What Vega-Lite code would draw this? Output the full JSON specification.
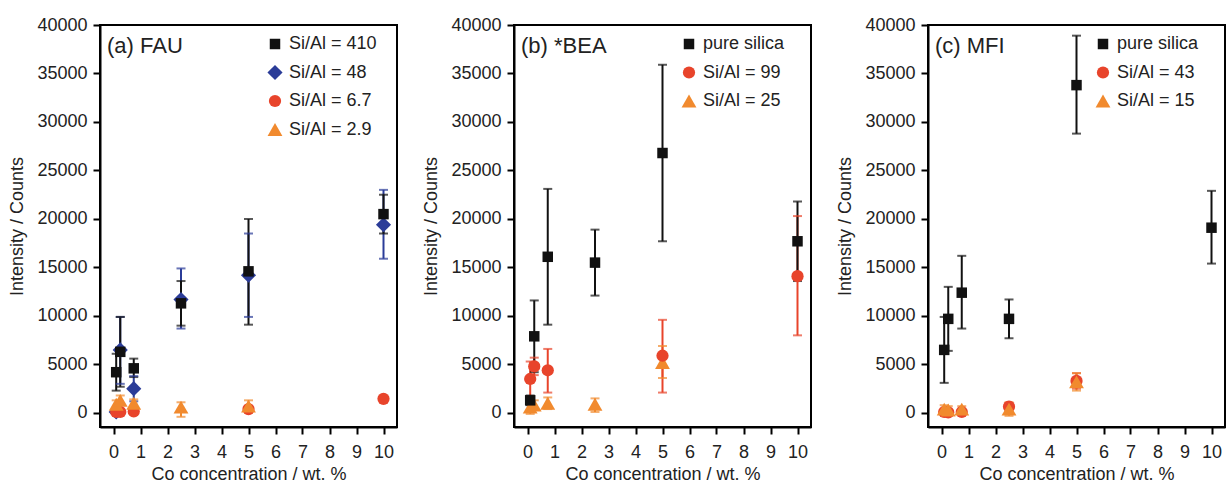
{
  "$schema": "https://vega.github.io/schema/vega-lite/v6.json",
  "padding": {"left": 7, "top": 15, "right": 0, "bottom": 0},
  "spacing": 23,
  "background": "white",
  "datasets": {
    "fau": [
      {"s": "Si/Al = 48", "x": 0.1, "y": 100, "lo": -100, "hi": 300},
      {"s": "Si/Al = 48", "x": 0.25, "y": 6500, "lo": 3000, "hi": 9900},
      {"s": "Si/Al = 48", "x": 0.75, "y": 2500, "lo": 1200, "hi": 3800},
      {"s": "Si/Al = 48", "x": 2.5, "y": 11700, "lo": 8700, "hi": 14900},
      {"s": "Si/Al = 48", "x": 5, "y": 14200, "lo": 9900, "hi": 18500},
      {"s": "Si/Al = 48", "x": 10, "y": 19400, "lo": 15900, "hi": 23000},
      {"s": "Si/Al = 6.7", "x": 0.1, "y": 100, "lo": 100, "hi": 100},
      {"s": "Si/Al = 6.7", "x": 0.25, "y": 100, "lo": 100, "hi": 100},
      {"s": "Si/Al = 6.7", "x": 0.75, "y": 150, "lo": 150, "hi": 150},
      {"s": "Si/Al = 6.7", "x": 5, "y": 400, "lo": 400, "hi": 400},
      {"s": "Si/Al = 6.7", "x": 10, "y": 1450, "lo": 1300, "hi": 1600},
      {"s": "Si/Al = 2.9", "x": 0.1, "y": 900, "lo": 500, "hi": 1300},
      {"s": "Si/Al = 2.9", "x": 0.25, "y": 1300, "lo": 800, "hi": 1800},
      {"s": "Si/Al = 2.9", "x": 0.75, "y": 1000, "lo": 600, "hi": 1400},
      {"s": "Si/Al = 2.9", "x": 2.5, "y": 600, "lo": -400, "hi": 1100},
      {"s": "Si/Al = 2.9", "x": 5, "y": 700, "lo": 0, "hi": 1300},
      {"s": "Si/Al = 410", "x": 0.1, "y": 4200, "lo": 2300, "hi": 6100},
      {"s": "Si/Al = 410", "x": 0.25, "y": 6300, "lo": 2700, "hi": 9900},
      {"s": "Si/Al = 410", "x": 0.75, "y": 4600, "lo": 3700, "hi": 5600},
      {"s": "Si/Al = 410", "x": 2.5, "y": 11300, "lo": 9000, "hi": 13600},
      {"s": "Si/Al = 410", "x": 5, "y": 14600, "lo": 9100, "hi": 20000},
      {"s": "Si/Al = 410", "x": 10, "y": 20500, "lo": 18500, "hi": 22500}
    ],
    "bea": [
      {"s": "Si/Al = 25", "x": 0.1, "y": 600, "lo": -100, "hi": 1300},
      {"s": "Si/Al = 25", "x": 0.25, "y": 800, "lo": 300, "hi": 1300},
      {"s": "Si/Al = 25", "x": 0.75, "y": 1000, "lo": 400, "hi": 1600},
      {"s": "Si/Al = 25", "x": 2.5, "y": 900, "lo": 100, "hi": 1500},
      {"s": "Si/Al = 25", "x": 5, "y": 5200, "lo": 3600, "hi": 6900},
      {"s": "Si/Al = 99", "x": 0.1, "y": 3500, "lo": 1700, "hi": 5300},
      {"s": "Si/Al = 99", "x": 0.25, "y": 4800, "lo": 3900, "hi": 5700},
      {"s": "Si/Al = 99", "x": 0.75, "y": 4400, "lo": 2100, "hi": 6600},
      {"s": "Si/Al = 99", "x": 5, "y": 5900, "lo": 2100, "hi": 9600},
      {"s": "Si/Al = 99", "x": 10, "y": 14100, "lo": 8000, "hi": 20300},
      {"s": "pure silica", "x": 0.1, "y": 1300, "lo": 800, "hi": 1800},
      {"s": "pure silica", "x": 0.25, "y": 7900, "lo": 4200, "hi": 11600},
      {"s": "pure silica", "x": 0.75, "y": 16100, "lo": 9100, "hi": 23100},
      {"s": "pure silica", "x": 2.5, "y": 15500, "lo": 12100, "hi": 18900},
      {"s": "pure silica", "x": 5, "y": 26800, "lo": 17700, "hi": 35900},
      {"s": "pure silica", "x": 10, "y": 17700, "lo": 13600, "hi": 21800}
    ],
    "mfi": [
      {"s": "Si/Al = 43", "x": 0.1, "y": 100, "lo": 100, "hi": 100},
      {"s": "Si/Al = 43", "x": 0.25, "y": 50, "lo": 50, "hi": 50},
      {"s": "Si/Al = 43", "x": 0.75, "y": 100, "lo": 100, "hi": 100},
      {"s": "Si/Al = 43", "x": 2.5, "y": 650, "lo": 650, "hi": 650},
      {"s": "Si/Al = 43", "x": 5, "y": 3300, "lo": 2500, "hi": 4100},
      {"s": "Si/Al = 15", "x": 0.1, "y": 400, "lo": 0, "hi": 800},
      {"s": "Si/Al = 15", "x": 0.25, "y": 300, "lo": -300, "hi": 700},
      {"s": "Si/Al = 15", "x": 0.75, "y": 400, "lo": 100, "hi": 700},
      {"s": "Si/Al = 15", "x": 2.5, "y": 400, "lo": -300, "hi": 1100},
      {"s": "Si/Al = 15", "x": 5, "y": 3200, "lo": 2300, "hi": 4100},
      {"s": "pure silica", "x": 0.1, "y": 6500, "lo": 3100, "hi": 9900},
      {"s": "pure silica", "x": 0.25, "y": 9700, "lo": 6400, "hi": 13000},
      {"s": "pure silica", "x": 0.75, "y": 12400, "lo": 8700, "hi": 16200},
      {"s": "pure silica", "x": 2.5, "y": 9700, "lo": 7700, "hi": 11700},
      {"s": "pure silica", "x": 5, "y": 33800, "lo": 28800, "hi": 38900},
      {"s": "pure silica", "x": 10, "y": 19100, "lo": 15400, "hi": 22900}
    ]
  },
  "hconcat": [
    {
      "width": 297, "height": 402,
      "title": {"text": "(a) FAU", "anchor": "start", "frame": "group", "fontSize": 22, "fontWeight": "normal", "color": "#222", "offset": 0, "dx": 7, "dy": 59, "baseline": "alphabetic"},
      "data": {"name": "fau"},
      "encoding": {
        "x": {"field": "x", "type": "quantitative", "scale": {"domain": [-0.5, 10.5], "nice": false, "zero": false},
          "axis": {"values": [0,0.5,1,1.5,2,2.5,3,3.5,4,4.5,5,5.5,6,6.5,7,7.5,8,8.5,9,9.5,10], "format": "d", "labelExpr": "datum.value % 1 === 0 ? datum.label : ''", "title": "Co concentration / wt. %"}}
      },
      "layer": [
        {"mark": {"type": "rule", "strokeWidth": 2},
         "encoding": {"y": {"field": "lo", "type": "quantitative", "scale": {"domain": [-1450, 40000], "nice": false, "zero": false}, "axis": {"values": [0,5000,10000,15000,20000,25000,30000,35000,40000], "format": "d", "title": "Intensity / Counts"}}, "y2": {"field": "hi"},
           "stroke": {"field": "s", "type": "nominal", "scale": {"domain": ["Si/Al = 2.9", "Si/Al = 6.7", "Si/Al = 48", "Si/Al = 410"], "range": ["#f18a2e", "#e8442b", "#2b3c98", "#111111"]}, "legend": null}}},
        {"mark": {"type": "tick", "orient": "horizontal", "size": 9, "thickness": 2},
         "encoding": {"y": {"field": "lo", "type": "quantitative", "title": "Intensity / Counts"},
           "fill": {"field": "s", "type": "nominal", "scale": {"domain": ["Si/Al = 6.7", "Si/Al = 2.9", "Si/Al = 410", "Si/Al = 48"], "range": ["#e8442b", "#f18a2e", "#111111", "#2b3c98"]}, "legend": null}}},
        {"mark": {"type": "tick", "orient": "horizontal", "size": 9, "thickness": 2},
         "encoding": {"y": {"field": "hi", "type": "quantitative", "title": "Intensity / Counts"},
           "fill": {"field": "s", "type": "nominal", "legend": null}}},
        {"mark": {"type": "point", "filled": true, "opacity": 1},
         "encoding": {"y": {"field": "y", "type": "quantitative", "title": "Intensity / Counts"},
           "color": {"field": "s", "type": "nominal", "title": null, "scale": {"domain": ["Si/Al = 410", "Si/Al = 48", "Si/Al = 6.7", "Si/Al = 2.9"], "range": ["#111111", "#2b3c98", "#e8442b", "#f18a2e"]}, "legend": {"orient": "none", "legendX": 166, "legendY": 10}},
           "shape": {"field": "s", "type": "nominal", "title": null, "scale": {"domain": ["Si/Al = 410", "Si/Al = 48", "Si/Al = 6.7", "Si/Al = 2.9"], "range": ["square", "diamond", "circle", "triangle-up"]}},
           "size": {"field": "s", "type": "nominal", "title": null, "scale": {"type": "ordinal", "domain": ["Si/Al = 410", "Si/Al = 48", "Si/Al = 6.7", "Si/Al = 2.9"], "range": [110, 230, 150, 220]}}}}
      ]
    },
    {
      "width": 297, "height": 402,
      "title": {"text": "(b) *BEA", "anchor": "start", "frame": "group", "fontSize": 22, "fontWeight": "normal", "color": "#222", "offset": 0, "dx": 7, "dy": 59, "baseline": "alphabetic"},
      "data": {"name": "bea"},
      "encoding": {
        "x": {"field": "x", "type": "quantitative", "scale": {"domain": [-0.5, 10.5], "nice": false, "zero": false},
          "axis": {"values": [0,0.5,1,1.5,2,2.5,3,3.5,4,4.5,5,5.5,6,6.5,7,7.5,8,8.5,9,9.5,10], "format": "d", "labelExpr": "datum.value % 1 === 0 ? datum.label : ''", "title": "Co concentration / wt. %"}}
      },
      "layer": [
        {"mark": {"type": "rule", "strokeWidth": 2},
         "encoding": {"y": {"field": "lo", "type": "quantitative", "scale": {"domain": [-1450, 40000], "nice": false, "zero": false}, "axis": {"values": [0,5000,10000,15000,20000,25000,30000,35000,40000], "format": "d", "title": "Intensity / Counts"}}, "y2": {"field": "hi"},
           "stroke": {"field": "s", "type": "nominal", "scale": {"domain": ["Si/Al = 25", "Si/Al = 99", "pure silica"], "range": ["#f18a2e", "#e8442b", "#111111"]}, "legend": null}}},
        {"mark": {"type": "tick", "orient": "horizontal", "size": 9, "thickness": 2},
         "encoding": {"y": {"field": "lo", "type": "quantitative", "title": "Intensity / Counts"},
           "fill": {"field": "s", "type": "nominal", "scale": {"domain": ["Si/Al = 99", "Si/Al = 25", "pure silica"], "range": ["#e8442b", "#f18a2e", "#111111"]}, "legend": null}}},
        {"mark": {"type": "tick", "orient": "horizontal", "size": 9, "thickness": 2},
         "encoding": {"y": {"field": "hi", "type": "quantitative", "title": "Intensity / Counts"},
           "fill": {"field": "s", "type": "nominal", "legend": null}}},
        {"mark": {"type": "point", "filled": true, "opacity": 1},
         "encoding": {"y": {"field": "y", "type": "quantitative", "title": "Intensity / Counts"},
           "color": {"field": "s", "type": "nominal", "title": null, "scale": {"domain": ["pure silica", "Si/Al = 99", "Si/Al = 25"], "range": ["#111111", "#e8442b", "#f18a2e"]}, "legend": {"orient": "none", "legendX": 166, "legendY": 10}},
           "shape": {"field": "s", "type": "nominal", "title": null, "scale": {"domain": ["pure silica", "Si/Al = 99", "Si/Al = 25"], "range": ["square", "circle", "triangle-up"]}},
           "size": {"field": "s", "type": "nominal", "title": null, "scale": {"type": "ordinal", "domain": ["pure silica", "Si/Al = 99", "Si/Al = 25"], "range": [110, 150, 220]}}}}
      ]
    },
    {
      "width": 297, "height": 402,
      "title": {"text": "(c) MFI", "anchor": "start", "frame": "group", "fontSize": 22, "fontWeight": "normal", "color": "#222", "offset": 0, "dx": 7, "dy": 59, "baseline": "alphabetic"},
      "data": {"name": "mfi"},
      "encoding": {
        "x": {"field": "x", "type": "quantitative", "scale": {"domain": [-0.5, 10.5], "nice": false, "zero": false},
          "axis": {"values": [0,0.5,1,1.5,2,2.5,3,3.5,4,4.5,5,5.5,6,6.5,7,7.5,8,8.5,9,9.5,10], "format": "d", "labelExpr": "datum.value % 1 === 0 ? datum.label : ''", "title": "Co concentration / wt. %"}}
      },
      "layer": [
        {"mark": {"type": "rule", "strokeWidth": 2},
         "encoding": {"y": {"field": "lo", "type": "quantitative", "scale": {"domain": [-1450, 40000], "nice": false, "zero": false}, "axis": {"values": [0,5000,10000,15000,20000,25000,30000,35000,40000], "format": "d", "title": "Intensity / Counts"}}, "y2": {"field": "hi"},
           "stroke": {"field": "s", "type": "nominal", "scale": {"domain": ["Si/Al = 15", "Si/Al = 43", "pure silica"], "range": ["#f18a2e", "#e8442b", "#111111"]}, "legend": null}}},
        {"mark": {"type": "tick", "orient": "horizontal", "size": 9, "thickness": 2},
         "encoding": {"y": {"field": "lo", "type": "quantitative", "title": "Intensity / Counts"},
           "fill": {"field": "s", "type": "nominal", "scale": {"domain": ["Si/Al = 43", "Si/Al = 15", "pure silica"], "range": ["#e8442b", "#f18a2e", "#111111"]}, "legend": null}}},
        {"mark": {"type": "tick", "orient": "horizontal", "size": 9, "thickness": 2},
         "encoding": {"y": {"field": "hi", "type": "quantitative", "title": "Intensity / Counts"},
           "fill": {"field": "s", "type": "nominal", "legend": null}}},
        {"mark": {"type": "point", "filled": true, "opacity": 1},
         "encoding": {"y": {"field": "y", "type": "quantitative", "title": "Intensity / Counts"},
           "color": {"field": "s", "type": "nominal", "title": null, "scale": {"domain": ["pure silica", "Si/Al = 43", "Si/Al = 15"], "range": ["#111111", "#e8442b", "#f18a2e"]}, "legend": {"orient": "none", "legendX": 166, "legendY": 10}},
           "shape": {"field": "s", "type": "nominal", "title": null, "scale": {"domain": ["pure silica", "Si/Al = 43", "Si/Al = 15"], "range": ["square", "circle", "triangle-up"]}},
           "size": {"field": "s", "type": "nominal", "title": null, "scale": {"type": "ordinal", "domain": ["pure silica", "Si/Al = 43", "Si/Al = 15"], "range": [110, 150, 220]}}}}
      ]
    }
  ],
  "resolve": {
    "scale": {"color": "independent", "shape": "independent", "size": "independent", "stroke": "independent", "fill": "independent", "x": "independent", "y": "independent"},
    "legend": {"color": "independent", "shape": "independent", "size": "independent", "stroke": "independent", "fill": "independent"}
  },
  "config": {
    "font": "Liberation Sans",
    "view": {"stroke": "#000000", "strokeWidth": 2},
    "axis": {"grid": false, "domainColor": "#000000", "domainWidth": 2, "tickColor": "#000000", "tickWidth": 2, "tickSize": 7,
      "labelFontSize": 18, "titleFontSize": 18, "titleFontWeight": "normal", "labelColor": "#222222", "titleColor": "#222222",
      "labelFont": "Liberation Sans", "titleFont": "Liberation Sans", "labelFlush": false, "labelOverlap": false},
    "axisX": {"labelPadding": 9, "titlePadding": 4},
    "axisY": {"labelPadding": 6, "titlePadding": 10},
    "legend": {"labelFontSize": 18, "labelColor": "#222222", "labelFont": "Liberation Sans", "rowPadding": 10.5, "labelOffset": 5, "symbolStrokeWidth": 0, "padding": 0}
  }
}
